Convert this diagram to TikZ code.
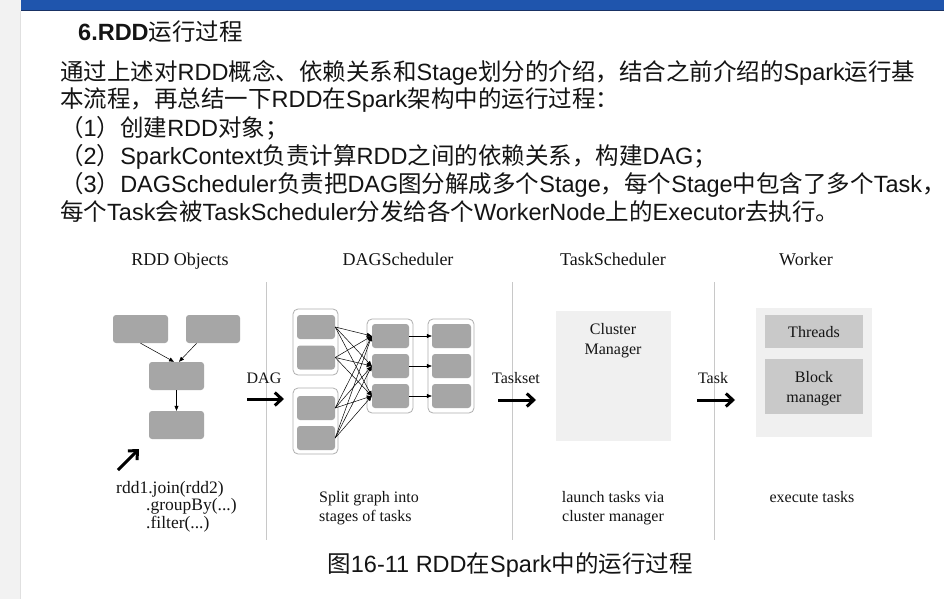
\documentclass[tikz,border=0pt]{standalone}
\usepackage{fontspec}
\setmainfont{Liberation Sans}
\newfontfamily\zh{Noto Sans CJK SC}
\newfontfamily\serif{Liberation Serif}
\usetikzlibrary{arrows.meta}
\definecolor{barblue}{RGB}{31,85,173}
\definecolor{bardark}{RGB}{25,50,100}
\definecolor{leftgray}{RGB}{242,242,242}
\definecolor{boxgray}{RGB}{166,166,166}
\definecolor{lightbox}{RGB}{240,240,240}
\definecolor{midbox}{RGB}{201,201,201}
\definecolor{sepgray}{RGB}{200,200,200}
\definecolor{grpborder}{RGB}{175,175,175}
\definecolor{ink}{RGB}{20,20,20}
\begin{document}
\begin{tikzpicture}[x=1pt,y=-1pt,
  cn/.style={anchor=base west, inner sep=0pt, text=ink, font=\fontsize{23.5}{28}\selectfont},
  hdr/.style={anchor=base, inner sep=0pt, text=ink, font=\serif\fontsize{18}{21}\selectfont},
  lbl/.style={anchor=base, inner sep=0pt, text=ink, font=\serif\fontsize{16}{19}\selectfont},
  lblw/.style={anchor=base west, inner sep=0pt, text=ink, font=\serif\fontsize{16}{19}\selectfont},
  codew/.style={anchor=base west, inner sep=0pt, text=ink, font=\serif\fontsize{17.5}{20}\selectfont},
  rddbox/.style={fill=boxgray, draw=none, rounded corners=3pt, inner sep=0pt},
  grpbox/.style={fill=white, draw=grpborder, line width=0.8pt, rounded corners=5pt, inner sep=0pt},
  lightpanel/.style={fill=lightbox, draw=none, inner sep=0pt},
  midpanel/.style={fill=midbox, draw=none, inner sep=0pt},
  sepline/.style={draw=sepgray, line width=1pt},
  thinarrow/.style={draw=black, line width=0.5pt, -{Triangle[length=5pt,width=4pt]}},
  bigarrow/.style={draw=black, line width=3pt, -{Straight Barb[length=7pt,width=13pt]}}
]
\useasboundingbox (0,0) rectangle (944,599);
\fill[white] (0,0) rectangle (944,599);
\fill[leftgray] (0,0) rectangle (21,599);
\draw[draw=black!12, line width=0.6pt] (20.7,11) -- (20.7,599);
\fill[barblue] (21,0) rectangle (944,11);
\draw[bardark, line width=1.2pt] (21,10.6) -- (944,10.6);

% ---------- text block ----------
\node[cn] (title) at (78,41) {\bfseries 6.RDD{\zh\mdseries 运行过程}};
\node[cn] (l1) at (60,81) {{\zh 通过上述对}RDD{\zh 概念、依赖关系和}Stage{\zh 划分的介绍，结合之前介绍的}Spark{\zh 运行基}};
\node[cn] (l2) at (60,108) {{\zh 本流程，再总结一下}RDD{\zh 在}Spark{\zh 架构中的运行过程：}};
\node[cn] (l3) at (60,136) {{\zh （}1{\zh ）创建}RDD{\zh 对象；}};
\node[cn] (l4) at (60,164) {{\zh （}2{\zh ）}SparkContext{\zh 负责计算}RDD{\zh 之间的依赖关系，构建}DAG{\zh ；}};
\node[cn] (l5) at (60,192) {{\zh （}3{\zh ）}DAGScheduler{\zh 负责把}DAG{\zh 图分解成多个}Stage{\zh ，每个}Stage{\zh 中包含了多个}Task{\zh ，}};
\node[cn] (l6) at (60,220) {{\zh 每个}Task{\zh 会被}TaskScheduler{\zh 分发给各个}WorkerNode{\zh 上的}Executor{\zh 去执行。}};

% ---------- headers ----------
\node[hdr] (h1) at (180,265) {RDD Objects};
\node[hdr] (h2) at (398,265) {DAGScheduler};
\node[hdr] (h3) at (613,265) {TaskScheduler};
\node[hdr] (h4) at (806,265) {Worker};

% ---------- separators ----------
\draw[sepline] (266,282) -- (266,540);
\draw[sepline] (512,282) -- (512,540);
\draw[sepline] (714,282) -- (714,540);

% ---------- RDD objects ----------
\node[rddbox, minimum width=55pt, minimum height=28pt] (A) at (140.5,329) {};
\node[rddbox, minimum width=54pt, minimum height=28pt] (B) at (213,329) {};
\node[rddbox, minimum width=55pt, minimum height=28pt] (C) at (176.5,376) {};
\node[rddbox, minimum width=55pt, minimum height=28pt] (D) at (176.5,425) {};
\draw[thinarrow] (A.south) -- (C.100);
\draw[thinarrow] (B.-139) -- (C.80);
\draw[thinarrow] (C.south) -- (D.north);
\coordinate (pa) at (118,470);
\coordinate (pb) at (139,449);
\draw[bigarrow] (pa) -- (pb);
\node[codew] (code1) at (116,493) {rdd1.join(rdd2)};
\node[codew] (code2) at (146,510) {.groupBy(...)};
\node[codew] (code3) at (146,528) {.filter(...)};

% DAG arrow
\node[lbl] (dagl) at (264,383) {DAG};
\coordinate (da) at (247,399);
\coordinate (db) at (284,399);
\draw[bigarrow] (da) -- (db);

% ---------- DAGScheduler ----------
\node[grpbox, minimum width=45pt, minimum height=66pt] (G1) at (315.5,342) {};
\node[grpbox, minimum width=45pt, minimum height=66pt] (G2) at (315.5,421) {};
\node[grpbox, minimum width=46pt, minimum height=94pt] (G3) at (390,366) {};
\node[grpbox, minimum width=46pt, minimum height=94pt] (G4) at (451,366) {};
\node[rddbox, minimum width=38pt, minimum height=24pt] (g1a) at (316,327) {};
\node[rddbox, minimum width=38pt, minimum height=24pt] (g1b) at (316,357.5) {};
\node[rddbox, minimum width=38pt, minimum height=24pt] (g2a) at (316,408) {};
\node[rddbox, minimum width=38pt, minimum height=24pt] (g2b) at (316,438) {};
\node[rddbox, minimum width=37pt, minimum height=24pt] (m1) at (390.5,336) {};
\node[rddbox, minimum width=37pt, minimum height=24pt] (m2) at (390.5,366) {};
\node[rddbox, minimum width=37pt, minimum height=24pt] (m3) at (390.5,396) {};
\node[rddbox, minimum width=39pt, minimum height=24pt] (n1) at (451.5,336) {};
\node[rddbox, minimum width=39pt, minimum height=24pt] (n2) at (451.5,366) {};
\node[rddbox, minimum width=39pt, minimum height=24pt] (n3) at (451.5,396) {};
\foreach \s in {g1a,g1b,g2a,g2b}{
  \foreach \t in {m1,m2,m3}{
    \draw[thinarrow] (\s.east) -- (\t.west);
  }
}
\draw[thinarrow] (m1.east) -- (n1.west);
\draw[thinarrow] (m2.east) -- (n2.west);
\draw[thinarrow] (m3.east) -- (n3.west);
\node[lblw] (split1) at (319,502) {Split graph into};
\node[lblw] (split2) at (319,521) {stages of tasks};

% Taskset arrow
\node[lbl] (tsl) at (516,383) {Taskset};
\coordinate (ta) at (498,400);
\coordinate (tb) at (536,400);
\draw[bigarrow] (ta) -- (tb);

% ---------- TaskScheduler ----------
\node[lightpanel, minimum width=115pt, minimum height=130pt] (cm) at (613.5,376) {};
\node[lbl] (cm1) at (613,334) {Cluster};
\node[lbl] (cm2) at (613,354) {Manager};
\node[lbl] (la1) at (613,502) {launch tasks via};
\node[lbl] (la2) at (613,521) {cluster manager};

% Task arrow
\node[lbl] (tkl) at (713,383) {Task};
\coordinate (ka) at (697,400);
\coordinate (kb) at (735,400);
\draw[bigarrow] (ka) -- (kb);

% ---------- Worker ----------
\node[lightpanel, minimum width=116pt, minimum height=129pt] (wk) at (814,372.5) {};
\node[midpanel, minimum width=98pt, minimum height=33pt] (thr) at (814,331.5) {};
\node[midpanel, minimum width=98pt, minimum height=55pt] (blk) at (814,386.5) {};
\node[lbl] (thrt) at (814,337) {Threads};
\node[lbl] (blk1) at (814,382) {Block};
\node[lbl] (blk2) at (814,402) {manager};
\node[lbl] (ex) at (812,502) {execute tasks};

% ---------- caption ----------
\node[cn, anchor=base] (cap) at (510,572) {{\zh 图}16-11 RDD{\zh 在}Spark{\zh 中的运行过程}};
\end{tikzpicture}
\end{document}
